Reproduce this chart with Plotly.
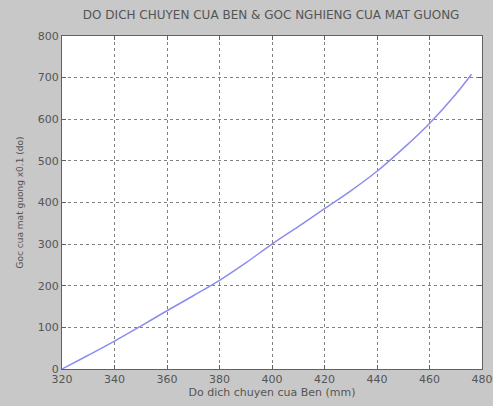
import plotly.graph_objects as go

ben_mm = [320, 330, 340, 350, 360, 370, 380, 390, 400, 410, 420, 430, 440, 450, 460, 470, 476]
goc = [0, 33, 67, 103, 140, 176, 213, 255, 300, 342, 385, 428, 475, 530, 590, 660, 708]

x_ticks = [320, 340, 360, 380, 400, 420, 440, 460, 480]
y_ticks = [0, 100, 200, 300, 400, 500, 600, 700, 800]

fig = go.Figure()
fig.add_trace(go.Scatter(x=ben_mm, y=goc, mode="lines",
                         line=dict(color="#8c8cf0", width=1.5, shape="spline"),
                         showlegend=False))

axis_common = dict(showline=True, linecolor="#606060", linewidth=1, mirror="ticks",
                   ticks="inside", ticklen=4, tickcolor="#606060", automargin=False,
                   showgrid=True, gridcolor="#808080", griddash="dot", gridwidth=1,
                   zeroline=False, tickfont=dict(size=11, color="#555555"))

fig.update_layout(
    width=493, height=406,
    paper_bgcolor="#c8c8c8", plot_bgcolor="white",
    margin=dict(l=62, r=11, t=36, b=37),
    font=dict(family="DejaVu Sans, sans-serif", color="#555555"),
    title=dict(text="DO DICH CHUYEN CUA BEN & GOC NGHIENG CUA MAT GUONG",
               x=0.55, xanchor="center", y=0.963, yanchor="middle",
               font=dict(size=12, color="#555555")),
    xaxis=dict(range=[320, 480], tickvals=x_ticks,
               title=dict(text="Do dich chuyen cua Ben (mm)", font=dict(size=11), standoff=1),
               **axis_common),
    yaxis=dict(range=[0, 800], tickvals=y_ticks,
               title=dict(text="Goc cua mat guong x0.1 (do)", font=dict(size=9), standoff=12),
               **axis_common),
)

fig.write_html("out.html", config={"displayModeBar": False},
               post_script="document.body.style.margin='0';document.body.style.background='#c8c8c8';")
